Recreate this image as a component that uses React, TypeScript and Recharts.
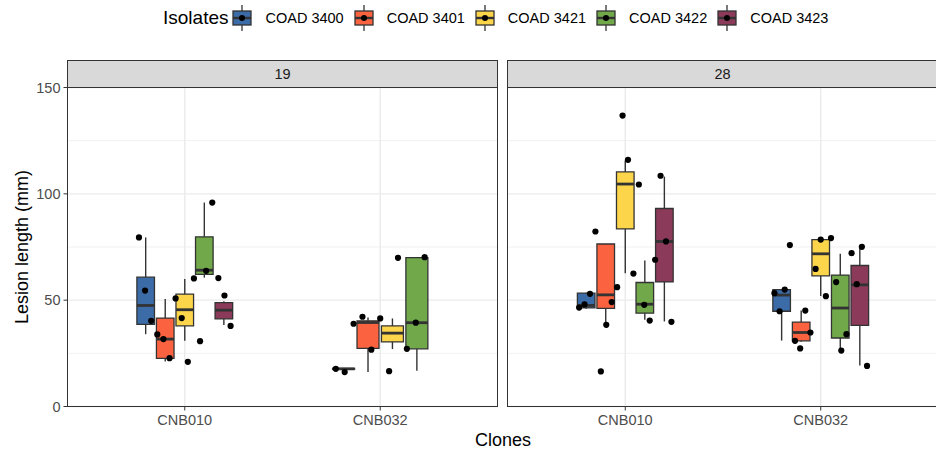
import React from "react";
import { CartesianGrid, ComposedChart, ReferenceArea, ReferenceLine, Scatter, XAxis, YAxis } from "recharts";

const clones = ["CNB010", "CNB032"];
const isolates = ["COAD 3400", "COAD 3401", "COAD 3421", "COAD 3422", "COAD 3423"];
const colors = ["#3B6CA8", "#FB6340", "#FCD54B", "#71A84A", "#8B3A59"];
const yTicks = [0, 50, 100, 150];
const yMinor = [25, 75, 125];

type Box = { clone: string; isolate: string; lo: number; q1: number; med: number; q3: number; hi: number };

// box summaries (lesion length, mm)
const boxes19: Box[] = [
  { clone: "CNB010", isolate: "COAD 3400", lo: 34.0, q1: 38.6, med: 47.5, q3: 60.8, hi: 79.5 },
  { clone: "CNB010", isolate: "COAD 3401", lo: 21.2, q1: 22.6, med: 31.7, q3: 41.6, hi: 50.5 },
  { clone: "CNB010", isolate: "COAD 3421", lo: 30.9, q1: 37.9, med: 45.5, q3: 52.8, hi: 60.0 },
  { clone: "CNB010", isolate: "COAD 3422", lo: 60.6, q1: 62.1, med: 64.1, q3: 79.8, hi: 95.9 },
  { clone: "CNB010", isolate: "COAD 3423", lo: 38.3, q1: 41.2, med: 45.3, q3: 48.8, hi: 49.5 },
  { clone: "CNB032", isolate: "COAD 3400", lo: 17.4, q1: 17.5, med: 17.7, q3: 17.9, hi: 18.0 },
  { clone: "CNB032", isolate: "COAD 3401", lo: 16.2, q1: 27.3, med: 39.5, q3: 40.3, hi: 41.9 },
  { clone: "CNB032", isolate: "COAD 3421", lo: 27.0, q1: 30.4, med: 34.5, q3: 37.9, hi: 41.4 },
  { clone: "CNB032", isolate: "COAD 3422", lo: 16.8, q1: 27.1, med: 39.4, q3: 70.0, hi: 70.2 },
];

const boxes28: Box[] = [
  { clone: "CNB010", isolate: "COAD 3400", lo: 46.0, q1: 46.4, med: 47.5, q3: 53.3, hi: 53.5 },
  { clone: "CNB010", isolate: "COAD 3401", lo: 38.4, q1: 46.1, med: 52.5, q3: 76.4, hi: 76.4 },
  { clone: "CNB010", isolate: "COAD 3421", lo: 62.7, q1: 83.5, med: 104.6, q3: 110.3, hi: 115.7 },
  { clone: "CNB010", isolate: "COAD 3422", lo: 40.8, q1: 43.9, med: 48.1, q3: 58.3, hi: 68.6 },
  { clone: "CNB010", isolate: "COAD 3423", lo: 40.0, q1: 58.6, med: 77.6, q3: 93.1, hi: 108.1 },
  { clone: "CNB032", isolate: "COAD 3400", lo: 31.0, q1: 44.8, med: 52.4, q3: 55.0, hi: 55.2 },
  { clone: "CNB032", isolate: "COAD 3401", lo: 30.5, q1: 30.9, med: 34.8, q3: 39.7, hi: 45.1 },
  { clone: "CNB032", isolate: "COAD 3421", lo: 52.0, q1: 61.4, med: 71.8, q3: 78.5, hi: 78.8 },
  { clone: "CNB032", isolate: "COAD 3422", lo: 26.3, q1: 32.2, med: 46.3, q3: 61.8, hi: 71.8 },
  { clone: "CNB032", isolate: "COAD 3423", lo: 19.3, q1: 38.1, med: 57.2, q3: 66.3, hi: 75.2 },
];

// individual observations, left to right within each clone
const obs19CNB010 = [79.5, 54.5, 40.3, 33.9, 31.7, 22.7, 50.8, 41.6, 21.0, 60.2, 30.7, 63.8, 95.9, 60.4, 52.2, 37.9];
const obs19CNB032 = [17.7, 16.2, 38.9, 42.2, 26.7, 41.4, 16.6, 69.9, 27.1, 39.4, 70.2];
const obs28CNB010 = [46.5, 48.0, 53.0, 82.3, 16.5, 38.4, 49.1, 56.1, 136.8, 116.0, 62.5, 104.4, 47.8, 40.4, 69.0, 108.5, 77.6, 39.8];
const obs28CNB032 = [53.3, 44.8, 55.0, 75.9, 30.9, 27.3, 45.1, 34.8, 64.7, 78.5, 51.9, 79.2, 58.5, 26.3, 34.0, 72.1, 57.5, 75.1, 19.1];

const INK = "#333333";
const TICK = { fill: "#4D4D4D", fontSize: 14.5, fontFamily: "Liberation Sans, Arial, sans-serif" };

// dodge within a clone, as ggplot does: width 0.5, boxes 0.45
function layoutBoxes(boxes: Box[]) {
  return boxes.map((b) => {
    const group = boxes.filter((o) => o.clone === b.clone);
    const k = group.indexOf(b);
    const m = group.length;
    const cx = clones.indexOf(b.clone) + 1 - 0.25 + (0.5 * (k + 0.5)) / m;
    return { ...b, cx, half: 0.225 / m, color: colors[isolates.indexOf(b.isolate)] };
  });
}

function layoutPoints(lists: number[][]) {
  return lists.flatMap((vals, ci) =>
    vals.map((y, i) => ({ x: ci + 1 - 0.25 + (0.5 * (i + 0.5)) / vals.length, y }))
  );
}

const Dot = (p: any) => <circle cx={p.cx} cy={p.cy} r={3.1} fill="#000" />;

function Facet({ label, boxes, obs, showY, left, width }: any) {
  const laid = layoutBoxes(boxes);
  const pts = layoutPoints(obs);
  return (
    <div style={{ position: "absolute", left, top: 0, width, height: 450 }}>
      <ComposedChart width={width} height={450} margin={{ top: 87.5, right: 0, bottom: 0, left: 0 }}>
        <CartesianGrid horizontalValues={yMinor} vertical={false} stroke="#EEEEEE" strokeWidth={0.8} />
        <CartesianGrid horizontalValues={yTicks} verticalValues={[1, 2]} stroke="#EBEBEB" strokeWidth={1.4} />
        <XAxis
          type="number"
          dataKey="x"
          domain={[0.4, 2.6]}
          ticks={[1, 2]}
          interval={0}
          allowDataOverflow
          tickFormatter={(v: number) => clones[Math.round(v) - 1]}
          axisLine={false}
          tickLine={{ stroke: INK }}
          tickSize={4}
          tickMargin={4}
          height={43.5}
          tick={TICK}
        />
        <YAxis
          type="number"
          dataKey="y"
          domain={[0, 150]}
          ticks={yTicks}
          interval={0}
          allowDataOverflow
          hide={!showY}
          width={67.5}
          axisLine={false}
          tickLine={{ stroke: INK }}
          tickSize={4}
          tickMargin={3}
          tick={TICK}
        />
        {laid.map((b, i) => (
          <ReferenceLine
            key={"wl" + i}
            segment={[{ x: b.cx, y: b.lo }, { x: b.cx, y: b.q1 }]}
            stroke={INK}
            strokeWidth={1.4}
          />
        ))}
        {laid.map((b, i) => (
          <ReferenceLine
            key={"wh" + i}
            segment={[{ x: b.cx, y: b.q3 }, { x: b.cx, y: b.hi }]}
            stroke={INK}
            strokeWidth={1.4}
          />
        ))}
        {laid.map((b, i) => (
          <ReferenceArea
            key={"bx" + i}
            x1={b.cx - b.half}
            x2={b.cx + b.half}
            y1={b.q1}
            y2={b.q3}
            fill={b.color}
            fillOpacity={1}
            stroke={INK}
            strokeWidth={1.3}
          />
        ))}
        {laid.map((b, i) => (
          <ReferenceLine
            key={"md" + i}
            segment={[{ x: b.cx - b.half, y: b.med }, { x: b.cx + b.half, y: b.med }]}
            stroke={INK}
            strokeWidth={2.8}
          />
        ))}
        <Scatter data={pts} dataKey="y" shape={Dot} isAnimationActive={false} />
      </ComposedChart>
      <div
        style={{
          position: "absolute",
          left: showY ? 67 : -1,
          top: 87,
          width: 431,
          height: 320,
          boxSizing: "border-box",
          border: "1px solid " + INK,
          pointerEvents: "none",
        }}
      />
      <div
        style={{
          position: "absolute",
          left: showY ? 67 : -1,
          top: 60,
          width: 431,
          height: 28,
          boxSizing: "border-box",
          border: "1px solid " + INK,
          background: "#D9D9D9",
          color: "#1A1A1A",
          fontSize: 14.5,
          lineHeight: "26px",
          textAlign: "center",
        }}
      >
        {label}
      </div>
    </div>
  );
}

function KeyGlyph({ color }: { color: string }) {
  return (
    <svg width={28} height={28} style={{ display: "block" }}>
      <line x1={14} y1={1} x2={14} y2={27} stroke={INK} strokeWidth={1.3} />
      <rect x={5} y={7} width={18} height={14} fill={color} stroke={INK} strokeWidth={1.3} />
      <line x1={5} y1={14} x2={23} y2={14} stroke={INK} strokeWidth={2.4} />
      <circle cx={14} cy={14} r={3} fill="#000" />
    </svg>
  );
}

export default function App() {
  const font = "Liberation Sans, Arial, sans-serif";
  return (
    <div
      style={{
        position: "absolute",
        left: 0,
        top: 0,
        width: 936,
        height: 450,
        overflow: "hidden",
        background: "#fff",
        fontFamily: font,
      }}
    >
      <div style={{ position: "absolute", left: 163, top: 4, display: "flex", alignItems: "center", height: 28 }}>
        <span style={{ fontSize: 19, marginRight: 0 }}>Isolates</span>
        {isolates.map((iso, i) => (
          <div key={iso} style={{ display: "flex", alignItems: "center" }}>
            <KeyGlyph color={colors[i]} />
            <span style={{ fontSize: 14.5, marginLeft: 9, marginRight: 6 }}>{iso}</span>
          </div>
        ))}
      </div>
      <Facet label="19" boxes={boxes19} obs={[obs19CNB010, obs19CNB032]} showY left={0} width={497.5} />
      <Facet label="28" boxes={boxes28} obs={[obs28CNB010, obs28CNB032]} showY={false} left={508} width={430} />
      <div
        style={{
          position: "absolute",
          left: 22,
          top: 247,
          transform: "translate(-50%, -50%) rotate(-90deg)",
          fontSize: 18,
          whiteSpace: "nowrap",
        }}
      >
        Lesion length (mm)
      </div>
      <div
        style={{
          position: "absolute",
          left: 503,
          top: 440,
          transform: "translate(-50%, -50%)",
          fontSize: 18,
          whiteSpace: "nowrap",
        }}
      >
        Clones
      </div>
    </div>
  );
}
